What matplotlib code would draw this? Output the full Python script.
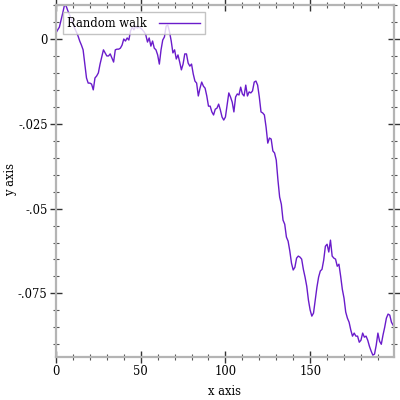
import matplotlib
matplotlib.use("Agg")
import matplotlib.pyplot as plt
from matplotlib.ticker import FixedLocator, MultipleLocator

x_values = list(range(200))
walk = [
    0.0018, 0.0027, 0.0035, 0.0056, 0.0077, 0.0100, 0.0097, 0.0083, 0.0071, 0.0059,
    0.0047, 0.0032, 0.0021, 0.0009, -0.0006, -0.0018, -0.0032, -0.0074, -0.0115, -0.0130,
    -0.0130, -0.0133, -0.0150, -0.0115, -0.0109, -0.0100, -0.0074, -0.0053, -0.0032, -0.0041,
    -0.0050, -0.0050, -0.0044, -0.0056, -0.0068, -0.0032, -0.0030, -0.0030, -0.0027, -0.0018,
    0.0000, -0.0006, 0.0003, -0.0003, 0.0024, 0.0035, 0.0027, 0.0038, 0.0032, 0.0035,
    0.0032, 0.0027, 0.0021, 0.0012, -0.0009, 0.0003, -0.0021, -0.0006, -0.0027, -0.0032,
    -0.0047, -0.0074, -0.0032, -0.0003, 0.0006, 0.0038, 0.0041, 0.0021, -0.0006, -0.0041,
    -0.0032, -0.0059, -0.0047, -0.0068, -0.0091, -0.0074, -0.0044, -0.0044, -0.0071, -0.0080,
    -0.0074, -0.0103, -0.0124, -0.0130, -0.0168, -0.0145, -0.0127, -0.0139, -0.0145, -0.0168,
    -0.0198, -0.0198, -0.0215, -0.0224, -0.0207, -0.0204, -0.0192, -0.0209, -0.0230, -0.0239,
    -0.0230, -0.0195, -0.0159, -0.0171, -0.0186, -0.0215, -0.0171, -0.0162, -0.0165, -0.0142,
    -0.0162, -0.0168, -0.0136, -0.0168, -0.0156, -0.0159, -0.0153, -0.0127, -0.0124, -0.0136,
    -0.0171, -0.0215, -0.0218, -0.0224, -0.0260, -0.0307, -0.0292, -0.0295, -0.0330, -0.0336,
    -0.0357, -0.0416, -0.0466, -0.0487, -0.0534, -0.0546, -0.0584, -0.0596, -0.0625, -0.0661,
    -0.0681, -0.0673, -0.0646, -0.0640, -0.0643, -0.0649, -0.0679, -0.0702, -0.0729, -0.0770,
    -0.0799, -0.0817, -0.0808, -0.0770, -0.0732, -0.0702, -0.0684, -0.0679, -0.0652, -0.0611,
    -0.0605, -0.0628, -0.0593, -0.0640, -0.0646, -0.0649, -0.0670, -0.0664, -0.0699, -0.0738,
    -0.0764, -0.0805, -0.0823, -0.0835, -0.0858, -0.0876, -0.0867, -0.0876, -0.0876, -0.0894,
    -0.0888, -0.0867, -0.0879, -0.0876, -0.0888, -0.0906, -0.0920, -0.0932, -0.0929, -0.0903,
    -0.0867, -0.0891, -0.0900, -0.0873, -0.0850, -0.0823, -0.0811, -0.0814, -0.0835, -0.0844,
]
x_major = [0, 50, 100, 150]
y_major = [0.0, -0.025, -0.05, -0.075]
y_major_labels = ["0", "-.025", "-.05", "-.075"]
series_label = "Random walk"

plt.rcParams['font.family'] = ['DejaVu Serif']
fs = 8.3

fig = plt.figure(figsize=(4, 4), dpi=100)
ax = fig.add_axes([0.14, 0.1075, 0.845, 0.88])
ax.plot(x_values, walk, color='#6a1ccb', lw=1.0, label=series_label)

ax.set_xlim(0, 199.5)
ax.set_ylim(-0.09375, 0.01002)

ax.xaxis.set_major_locator(FixedLocator(x_major))
ax.xaxis.set_minor_locator(MultipleLocator(10))
ax.yaxis.set_major_locator(FixedLocator(y_major))
ax.set_yticklabels(y_major_labels)
ax.yaxis.set_minor_locator(MultipleLocator(0.005))

for s in ax.spines.values():
    s.set_color('#b4b4b4')
    s.set_linewidth(1.6)

ax.tick_params(which='major', direction='inout', length=8, width=1.0, color='#333333',
               top=True, right=True, labelsize=fs, pad=2)
ax.tick_params(which='minor', direction='inout', length=4, width=0.8, color='#555555',
               top=True, right=True)

ax.set_xlabel("x axis", fontsize=fs, va='center')
ax.xaxis.set_label_coords(0.5, -0.0966)
ax.set_ylabel("y axis", fontsize=fs, va='center')
ax.yaxis.set_label_coords(-0.136, 0.503)

leg = ax.legend(loc='upper left', bbox_to_anchor=(0.02, 0.98), markerfirst=False,
                fontsize=fs, frameon=True, fancybox=False, handlelength=3.6,
                borderpad=0.4, handletextpad=1.0, borderaxespad=0)
leg.get_frame().set_edgecolor('#b4b4b4')
leg.get_frame().set_facecolor((1, 1, 1, 0.7))
leg.get_frame().set_linewidth(1.0)

fig.savefig("out.png", dpi=100)
